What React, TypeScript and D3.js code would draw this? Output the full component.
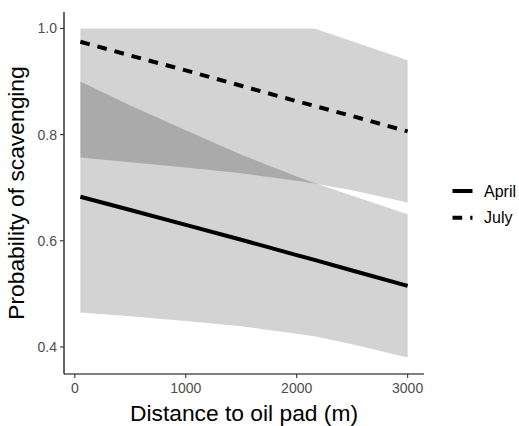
import * as d3 from "d3";
import React from "react";

// distance to oil pad (m) and fitted probabilities with confidence bands
const distance = [50, 500, 1000, 1500, 2000, 2160, 2500, 3000];
const aprilFit = [0.683, 0.658, 0.63, 0.602, 0.573, 0.564, 0.544, 0.515];
const aprilLower = [0.465, 0.458, 0.449, 0.439, 0.425, 0.42, 0.405, 0.38];
const aprilUpper = [0.9, 0.855, 0.808, 0.762, 0.721, 0.709, 0.685, 0.65];
const julyFit = [0.975, 0.949, 0.921, 0.892, 0.863, 0.854, 0.835, 0.806];
const julyLower = [0.757, 0.748, 0.738, 0.727, 0.713, 0.708, 0.695, 0.672];
const julyUpper = [1.0, 1.0, 1.0, 1.0, 1.0, 1.0, 0.976, 0.94];

const xTicks = [0, 1000, 2000, 3000];
const yTicks = [0.4, 0.6, 0.8, 1.0];
const seasons = ["April", "July"];

const width = 519;
const height = 426;
const panel = { left: 64, right: 424, top: 12, bottom: 374 };
const font = "'Liberation Sans', Arial, sans-serif";
const dash = "9.7,8";

const App = () => {
  const xMin = d3.min(distance)!;
  const xMax = d3.max(distance)!;
  const xPad = (xMax - xMin) * 0.05;
  const x = d3
    .scaleLinear()
    .domain([xMin - xPad, xMax + xPad])
    .range([panel.left, panel.right]);

  const yMin = d3.min([...aprilLower, ...julyLower])!;
  const yMax = d3.max([...aprilUpper, ...julyUpper])!;
  const yPad = (yMax - yMin) * 0.05;
  const y = d3
    .scaleLinear()
    .domain([yMin - yPad, yMax + yPad])
    .range([panel.bottom, panel.top]);

  const idx = distance.map((_, i) => i);

  const band = (lo: number[], hi: number[]) =>
    d3
      .area<number>()
      .x((i) => x(distance[i]))
      .y0((i) => y(lo[i]))
      .y1((i) => y(hi[i]))(idx) || "";

  const line = (v: number[]) =>
    d3
      .line<number>()
      .x((i) => x(distance[i]))
      .y((i) => y(v[i]))(idx) || "";

  const aprilBand = band(aprilLower, aprilUpper);
  const julyBand = band(julyLower, julyUpper);

  return (
    <svg
      width={width}
      height={height}
      style={{ position: "absolute", left: 0, top: 0, background: "#fff" }}
      fontFamily={font}
    >
      <defs>
        <clipPath id="julyClip">
          <path d={julyBand} />
        </clipPath>
      </defs>

      {/* confidence bands, overlap drawn darker */}
      <path d={aprilBand} fill="#d3d3d3" />
      <path d={julyBand} fill="#d3d3d3" />
      <path d={aprilBand} fill="#aaaaaa" clipPath="url(#julyClip)" />

      {/* fitted lines */}
      <path d={line(aprilFit)} fill="none" stroke="#000" strokeWidth={4} />
      <path
        d={line(julyFit)}
        fill="none"
        stroke="#000"
        strokeWidth={4}
        strokeDasharray={dash}
      />

      {/* axes */}
      <line x1={panel.left} x2={panel.left} y1={panel.top} y2={panel.bottom} stroke="#000" strokeWidth={1.2} />
      <line x1={panel.left} x2={panel.right} y1={panel.bottom} y2={panel.bottom} stroke="#000" strokeWidth={1.2} />

      {yTicks.map((t) => (
        <g key={t}>
          <line x1={panel.left - 4} x2={panel.left} y1={y(t)} y2={y(t)} stroke="#333" strokeWidth={1.1} />
          <text x={panel.left - 7} y={y(t) + 5} textAnchor="end" fontSize={14} fill="#4d4d4d">
            {d3.format(".1f")(t)}
          </text>
        </g>
      ))}

      {xTicks.map((t) => (
        <g key={t}>
          <line x1={x(t)} x2={x(t)} y1={panel.bottom} y2={panel.bottom + 4} stroke="#333" strokeWidth={1.1} />
          <text x={x(t)} y={393} textAnchor="middle" fontSize={14} fill="#4d4d4d">
            {t}
          </text>
        </g>
      ))}

      <text x={(panel.left + panel.right) / 2} y={421} textAnchor="middle" fontSize={22.8} fill="#000">
        Distance to oil pad (m)
      </text>
      <text
        transform={`translate(24,${(panel.top + panel.bottom) / 2}) rotate(-90)`}
        textAnchor="middle"
        fontSize={22.8}
        fill="#000"
      >
        Probability of scavenging
      </text>

      {/* legend */}
      {seasons.map((s, i) => {
        const ky = 191 + i * 26.7;
        return (
          <g key={s}>
            <line
              x1={452.5}
              x2={472.5}
              y1={ky}
              y2={ky}
              stroke="#000"
              strokeWidth={4}
              strokeDasharray={s === "July" ? dash : undefined}
            />
            <text x={484} y={ky + 5.5} fontSize={16} fill="#000">
              {s}
            </text>
          </g>
        );
      })}
    </svg>
  );
};

export default App;
